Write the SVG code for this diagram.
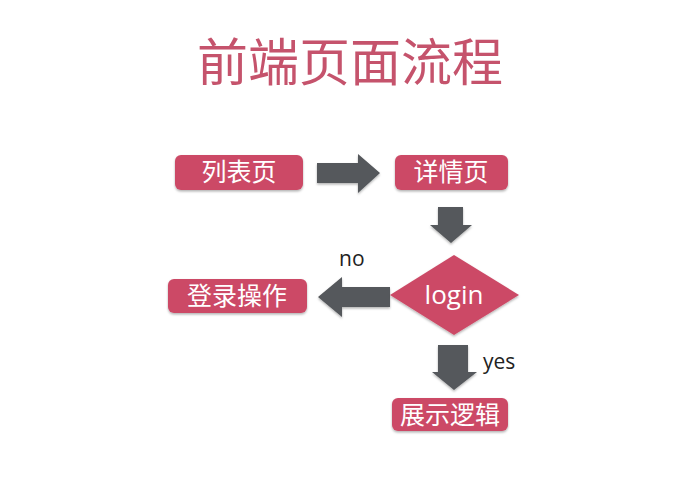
<svg xmlns="http://www.w3.org/2000/svg" width="688" height="491" viewBox="0 0 688 491">
  <defs>
    <filter id="shadow" x="-10%" y="-20%" width="120%" height="150%">
      <feDropShadow dx="0" dy="1.5" stdDeviation="1.2" flood-color="#000" flood-opacity="0.3"/>
    </filter>
  </defs>
  <style>
    .box { fill: #cc4a66; filter: url(#shadow); }
    .arrow { fill: #55585c; filter: url(#shadow); }
    .label { font-family: "Noto Sans CJK SC", "Noto Sans", sans-serif; font-size: 25px; fill: #ffffff; text-anchor: middle; }
    .note { font-family: "Open Sans", "Noto Sans", sans-serif; font-size: 21px; fill: #222222; }
    .title { font-family: "Noto Sans CJK SC", sans-serif; font-size: 51px; fill: #c5536c; text-anchor: middle; }
  </style>
  <rect width="688" height="491" fill="#ffffff"/>

  <text class="title" x="350" y="81">前端页面流程</text>

  <g id="connectors">
    <!-- 列表页 -> 详情页 -->
    <path class="arrow" d="M317,163 H358 V154 L380,173 L358,193 V183 H317 Z"/>
    <!-- 详情页 -> login -->
    <path class="arrow" d="M438,207 H463 V225 H472 L451,243 L430,225 H438 Z"/>
    <!-- login -> 登录操作 (no) -->
    <path class="arrow" d="M390,287 H342 V277 L318,297 L342,317 V307 H390 Z"/>
    <text class="note" x="339" y="266">no</text>
    <!-- login -> 展示逻辑 (yes) -->
    <path class="arrow" d="M438,345 H468 V372 H477 L454,390 L432,372 H438 Z"/>
    <text class="note" x="483" y="369">yes</text>
  </g>

  <g id="list-page">
    <rect class="box" x="175" y="155" width="128" height="35" rx="6"/>
    <text class="label" x="239" y="181">列表页</text>
  </g>

  <g id="detail-page">
    <rect class="box" x="395" y="155" width="113" height="35" rx="6"/>
    <text class="label" x="451" y="181">详情页</text>
  </g>

  <g id="login">
    <polygon class="box" points="454,255 519,295 454,335 390,295"/>
    <text class="label" x="454" y="304" style="font-family: 'Open Sans', 'Noto Sans', sans-serif; font-size: 26px;">login</text>
  </g>

  <g id="login-action">
    <rect class="box" x="168" y="279" width="139" height="34" rx="6"/>
    <text class="label" x="237" y="305">登录操作</text>
  </g>

  <g id="show-logic">
    <rect class="box" x="392" y="398" width="116" height="33" rx="6"/>
    <text class="label" x="450" y="424">展示逻辑</text>
  </g>
</svg>
